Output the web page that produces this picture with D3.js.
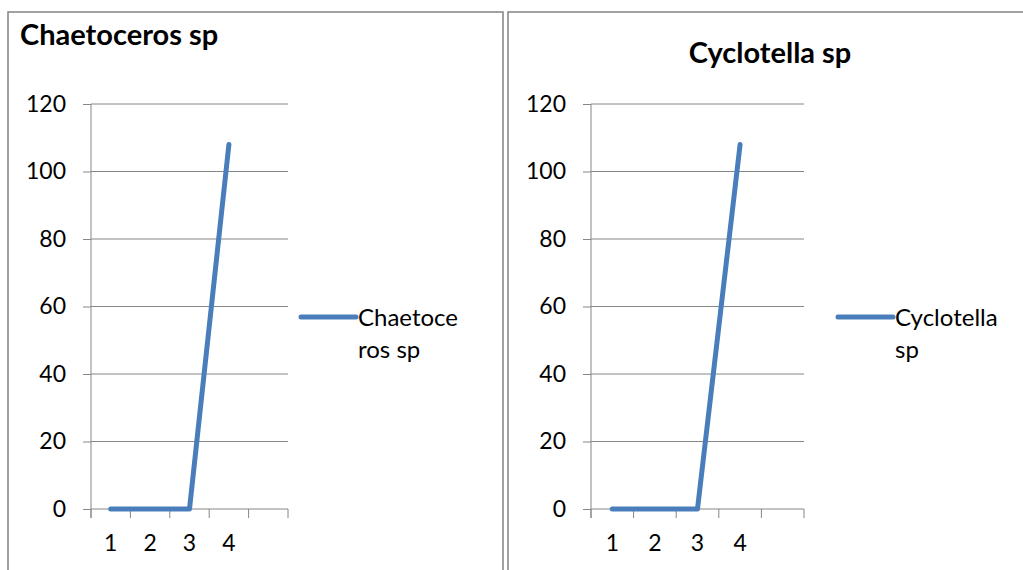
<!DOCTYPE html>
<html>
<head>
<meta charset="utf-8">
<script src="https://cdn.jsdelivr.net/npm/d3@7"></script>
<style>
  html, body { margin: 0; padding: 0; background: #fff; }
  svg { display: block; }
  text { font-family: Lato, "Open Sans", "Liberation Sans", sans-serif; fill: #000; }
</style>
</head>
<body>
<svg id="chart" width="1023" height="570"></svg>
<script>
// Day categories (last slot is an empty category, as in the sheet)
const days = ["1", "2", "3", "4", ""];
// Cell counts per day
const chaetocerosValues = [0, 0, 0, 108];
const cyclotellaValues = [0, 0, 0, 108];
// Value axis ticks
const yTicks = [0, 20, 40, 60, 80, 100, 120];

const panels = [
  {
    title: "Chaetoceros sp",
    legendLines: ["Chaetoce", "ros sp"],
    values: chaetocerosValues,
    frame: [8, 12, 503, 600],
    plotX: [91, 288],
    titlePos: [20, 45, "start"],
    legendX: 301
  },
  {
    title: "Cyclotella sp",
    legendLines: ["Cyclotella", "sp"],
    values: cyclotellaValues,
    frame: [508, 12, 1040, 600],
    plotX: [591, 804],
    titlePos: [770, 63, "middle"],
    legendX: 838
  }
];

const svg = d3.select("#chart");
const gridColor = "#868686";
const lineColor = "#4a7ebb";
const plotTop = 104, plotBottom = 509;
const labelSize = 23;

panels.forEach(p => {
  const g = svg.append("g");

  // chart frame
  g.append("rect")
    .attr("x", p.frame[0]).attr("y", p.frame[1])
    .attr("width", p.frame[2] - p.frame[0]).attr("height", p.frame[3] - p.frame[1])
    .attr("fill", "none").attr("stroke", "#8a8a8a").attr("stroke-width", 1.6);

  g.append("text")
    .attr("x", p.titlePos[0]).attr("y", p.titlePos[1])
    .attr("text-anchor", p.titlePos[2])
    .attr("font-size", 29).attr("font-weight", "bold")
    .text(p.title);

  const x = d3.scaleBand().domain(days).range(p.plotX).paddingInner(0).paddingOuter(0);
  const y = d3.scaleLinear().domain([0, 120]).range([plotBottom, plotTop]);

  // horizontal gridlines
  g.selectAll(".grid").data(yTicks.filter(t => t > 0)).join("line")
    .attr("x1", p.plotX[0]).attr("x2", p.plotX[1])
    .attr("y1", d => y(d)).attr("y2", d => y(d))
    .attr("stroke", gridColor).attr("stroke-width", 1);

  // value axis
  const yAxis = d3.axisLeft(y).tickValues(yTicks).tickSize(8).tickPadding(17);
  const ya = g.append("g").attr("transform", `translate(${p.plotX[0]},0)`).call(yAxis);
  ya.select(".domain").remove();
  ya.append("line").attr("x1", 0).attr("x2", 0).attr("y1", plotTop).attr("y2", plotBottom + 9)
    .attr("stroke", gridColor);
  ya.selectAll(".tick line").attr("stroke", gridColor);
  ya.selectAll(".tick text").attr("font-size", labelSize)
    .style("font-family", "Lato, 'Open Sans', sans-serif").attr("fill", "#000");

  // category axis with ticks between categories
  const xa = g.append("g").attr("transform", `translate(0,${plotBottom})`);
  xa.append("line").attr("x1", p.plotX[0]).attr("x2", p.plotX[1])
    .attr("stroke", gridColor);
  const edges = days.map(d => x(d)).concat([x(days[days.length - 1]) + x.bandwidth()]);
  xa.selectAll(".edge").data(edges).join("line")
    .attr("x1", d => d).attr("x2", d => d).attr("y1", 0).attr("y2", 9)
    .attr("stroke", gridColor);
  xa.selectAll(".lbl").data(days).join("text")
    .attr("x", d => x(d) + x.bandwidth() / 2).attr("y", 42)
    .attr("text-anchor", "middle").attr("font-size", labelSize)
    .text(d => d);

  // series line
  const line = d3.line()
    .x((v, i) => x(days[i]) + x.bandwidth() / 2)
    .y(v => y(v));
  g.append("path").datum(p.values)
    .attr("d", line).attr("fill", "none")
    .attr("stroke", lineColor).attr("stroke-width", 5)
    .attr("stroke-linecap", "round").attr("stroke-linejoin", "round");

  // legend
  const lg = g.append("g").attr("transform", `translate(${p.legendX},317)`);
  lg.append("line").attr("x1", 0).attr("x2", 55).attr("y1", 0).attr("y2", 0)
    .attr("stroke", lineColor).attr("stroke-width", 5).attr("stroke-linecap", "round");
  lg.selectAll("text").data(p.legendLines).join("text")
    .attr("x", 57).attr("y", (d, i) => 9 + i * 32)
    .attr("font-size", 24)
    .text(d => d);
});
</script>
</body>
</html>
